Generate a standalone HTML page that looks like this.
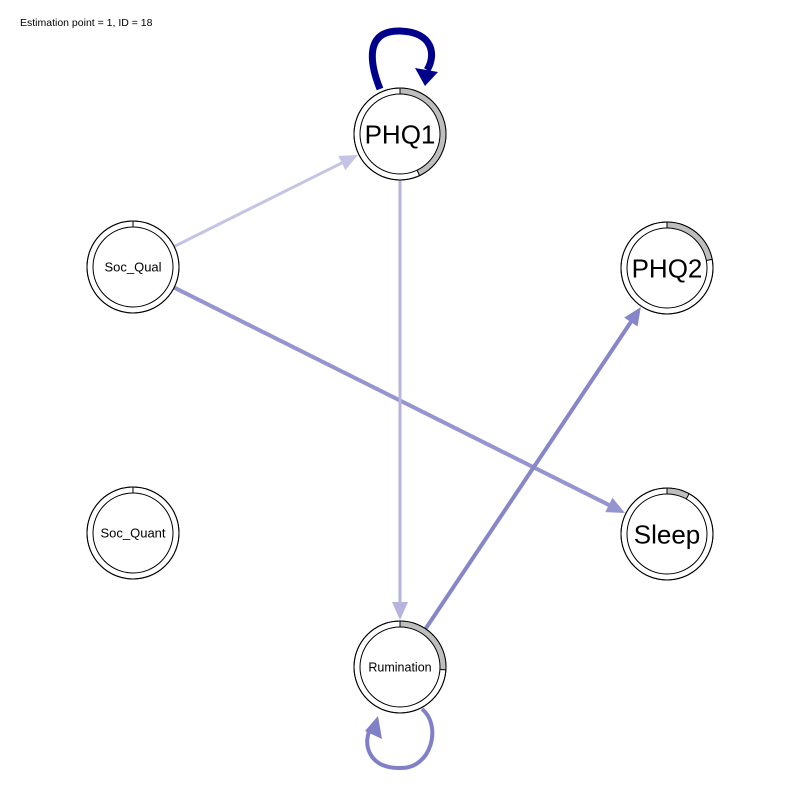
<!DOCTYPE html>
<html><head><meta charset="utf-8"><style>
body{margin:0;background:#fff}
svg{display:block;font-family:"Liberation Sans",Arial,sans-serif}
</style></head><body>
<svg id="net" width="800" height="800" viewBox="0 0 800 800">
<rect width="800" height="800" fill="#fff"/>
<text x="20" y="26" font-size="10.5" fill="#000">Estimation point = 1, ID = 18</text>
<g id="edges"></g><g id="nodes"></g>
</svg>
<script>
const nodeNames=["PHQ1","Soc_Qual","PHQ2","Soc_Quant","Sleep","Rumination"];
const nodeX=[400,133,667,133,667,400];
const nodeY=[134,267,268,533,534,667];
const nodeFont=[26,13,26,13,26,12.5];
const nodePie=[0.43,0,0.22,0,0.08,0.26];
const edgeFrom=[1,1,0,5];
const edgeTo=[0,4,5,2];
const edgeColor=["#c4c4e4","#9494d0","#b4b4de","#8686c8"];
const edgeWidth=[3,4,3,4];
const loopNode=[0,5];
const loopColor=["#00008b","#8080c8"];
const NS="http://www.w3.org/2000/svg";
const R=46,RI=40;
const eg=document.getElementById('edges'),ng=document.getElementById('nodes');
function mk(t,a,p){const e=document.createElementNS(NS,t);for(const k in a)e.setAttribute(k,a[k]);p.appendChild(e);return e;}
edgeFrom.forEach((f,i)=>{
 const t=edgeTo[i];
 const x1=nodeX[f],y1=nodeY[f],x2=nodeX[t],y2=nodeY[t];
 const dx=x2-x1,dy=y2-y1,L=Math.hypot(dx,dy),ux=dx/L,uy=dy/L;
 const sx=x1+ux*R,sy=y1+uy*R,ex=x2-ux*(R+1),ey=y2-uy*(R+1);
 const hl=18,hw=8,bx=ex-ux*hl,by=ey-uy*hl;
 const l=mk('line',{x1:sx,y1:sy,x2:bx+ux*2,y2:by+uy*2,stroke:edgeColor[i],'stroke-width':edgeWidth[i]},eg);
 
 
 const h=mk('polygon',{points:`${ex},${ey} ${bx-uy*hw},${by+ux*hw} ${bx+uy*hw},${by-ux*hw}`,fill:edgeColor[i]},eg);
 
 
});
loopNode.forEach((n,i)=>{
 const cx=nodeX[n],cy=nodeY[n],up=(n===0);
 const c=loopColor[i],w=up?7:4;
 let d,pts;
 if(up){
  d=`M${cx-20},${cy-R+1} C ${cx-30},${cy-70} ${cx-36},${cy-104} ${cx},${cy-103} C ${cx+34},${cy-102} ${cx+36},${cy-78} ${cx+27},${cy-64}`;
  pts=`${cx+25},${cy-R-2} ${cx+15},${cy-66} ${cx+38},${cy-62}`;
 }else{
  const lcY=cy+72,lr=30;
  d=`M${cx+22},${cy+R-4} C ${cx+42},${lcY-14} ${cx+32},${lcY+lr} ${cx},${lcY+lr-1} C ${cx-34},${lcY+lr} ${cx-38},${lcY} ${cx-28},${lcY-12}`;
  pts=`${cx-22},${cy+R+3} ${cx-35},${lcY-8} ${cx-18},${lcY}`;
 }
 const p=mk('path',{d,fill:'none',stroke:c,'stroke-width':w},eg);
 
 
 const a=mk('polygon',{points:pts,fill:c},eg);
 
 
});
nodeNames.forEach((nm,i)=>{
 const cx=nodeX[i],cy=nodeY[i];
 const g=mk('g',{},ng);
 
 
 mk('circle',{cx,cy,r:R,fill:'#fff',stroke:'#000','stroke-width':1},g);
 const f=nodePie[i];
 if(f>0){
  const a=f*2*Math.PI,rm=(R+RI)/2;
  const x=cx+rm*Math.sin(a),y=cy-rm*Math.cos(a);
  const arc=mk('path',{d:`M${cx},${cy-rm} A${rm},${rm} 0 ${f>0.5?1:0} 1 ${x},${y}`,fill:'none',stroke:'#bebebe','stroke-width':R-RI},g);
  
  
  mk('line',{x1:cx+RI*Math.sin(a),y1:cy-RI*Math.cos(a),x2:cx+R*Math.sin(a),y2:cy-R*Math.cos(a),stroke:'#000','stroke-width':1},g);
 }
 mk('line',{x1:cx,y1:cy-R,x2:cx,y2:cy-RI,stroke:'#000','stroke-width':1},g);
 mk('circle',{cx,cy,r:R,fill:'none',stroke:'#000','stroke-width':1},g);
 mk('circle',{cx,cy,r:RI,fill:'none',stroke:'#000','stroke-width':1},g);
 const t=mk('text',{x:cx,y:cy+nodeFont[i]*0.36,'text-anchor':'middle','font-size':nodeFont[i],fill:'#000'},g);
 t.textContent=nm;
 
 
});
</script>
</body></html>
